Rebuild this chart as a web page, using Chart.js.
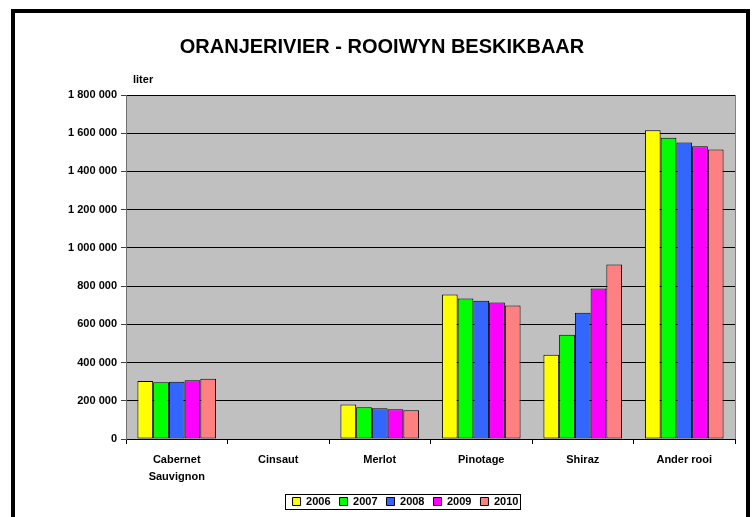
<!DOCTYPE html>
<html>
<head>
<meta charset="utf-8">
<script src="https://cdn.jsdelivr.net/npm/chart.js@4.4.0/dist/chart.umd.min.js"></script>
<style>
  html, body { margin: 0; padding: 0; background: #fff; overflow: hidden; }
  #wrap { position: relative; width: 755px; height: 517px; }
  #frame {
    position: absolute; left: 11px; top: 9px; width: 739px; height: 600px;
    border: 4px solid #000; box-sizing: border-box; pointer-events: none;
  }
  canvas { position: absolute; left: 0; top: 0; }
</style>
</head>
<body>
<div id="wrap">
  <canvas id="chart" width="755" height="517"></canvas>
  <div id="frame"></div>
</div>
<script>
// data
const categories = [['Cabernet', 'Sauvignon'], 'Cinsaut', 'Merlot', 'Pinotage', 'Shiraz', 'Ander rooi'];
const years = ['2006', '2007', '2008', '2009', '2010'];
const v2006 = [303000, 0, 180000, 756000, 441000, 1616000];
const v2007 = [297000, 0, 166000, 735000, 546000, 1576000];
const v2008 = [300000, 0, 161000, 724000, 661000, 1552000];
const v2009 = [308000, 0, 156000, 714000, 787000, 1532000];
const v2010 = [315000, 0, 151000, 698000, 913000, 1515000];
const yTicks = [0, 200000, 400000, 600000, 800000, 1000000, 1200000, 1400000, 1600000, 1800000];

const colours = ['#ffff00', '#00ff00', '#3366ff', '#ff00ff', '#ff8080'];
const series = [v2006, v2007, v2008, v2009, v2010];
const FONT = '"Liberation Sans", Arial, sans-serif';

function spaced(v) {
    return String(v).replace(/\B(?=(\d{3})+(?!\d))/g, ' ');
}

// gray plot background, title, "liter", legend box
const decor = {
    id: 'decor',
    afterLayout(chart) {
        // legend sits a bit right of the page centre
        chart.legend.left += 23;
        chart.legend.right += 23;
    },
    beforeDraw(chart) {
        const a = chart.chartArea, ctx = chart.ctx;
        ctx.save();
        ctx.fillStyle = '#c0c0c0';
        ctx.fillRect(a.left, a.top, a.right - a.left, a.bottom - a.top);
        ctx.restore();
    },
    afterDraw(chart) {
        const a = chart.chartArea, ctx = chart.ctx;
        ctx.save();
        // right edge of plot area
        ctx.strokeStyle = '#808080';
        ctx.lineWidth = 1;
        ctx.beginPath();
        ctx.moveTo(a.right + 0.5, a.top);
        ctx.lineTo(a.right + 0.5, a.bottom);
        ctx.stroke();

        ctx.fillStyle = '#000';
        ctx.font = 'bold 20px ' + FONT;
        ctx.textAlign = 'center';
        ctx.textBaseline = 'middle';
        ctx.fillText('ORANJERIVIER - ROOIWYN BESKIKBAAR', 382, 47);

        ctx.font = 'bold 11px ' + FONT;
        ctx.textAlign = 'left';
        ctx.fillText('liter', a.left + 7, a.top - 15);

        const hb = chart.legend.legendHitBoxes;
        if (hb && hb.length) {
            const first = hb[0], last = hb[hb.length - 1];
            const x0 = Math.round(first.left - 8) + 0.5;
            const x1 = Math.round(last.left + last.width + 2) + 0.5;
            const y0 = Math.round(first.top - 2) + 0.5;
            const y1 = Math.round(first.top + first.height + 2) + 0.5;
            ctx.strokeStyle = '#000';
            ctx.strokeRect(x0, y0, x1 - x0, y1 - y0);
        }
        ctx.restore();
    }
};

new Chart(document.getElementById('chart').getContext('2d'), {
    type: 'bar',
    data: {
        labels: categories,
        datasets: years.map((y, i) => ({
            label: y,
            data: series[i],
            backgroundColor: colours[i],
            borderColor: '#000',
            borderWidth: 1,
            borderSkipped: false,
            categoryPercentage: 0.775,
            barPercentage: 1.0
        }))
    },
    options: {
        responsive: false,
        devicePixelRatio: 1,
        animation: false,
        layout: {
            padding: { left: 30, right: 20, top: 95, bottom: 0 }
        },
        plugins: {
            title: { display: false },
            tooltip: { enabled: false },
            legend: {
                position: 'bottom',
                labels: {
                    color: '#000',
                    font: { family: FONT, size: 11, weight: 'bold' },
                    boxWidth: 8,
                    boxHeight: 8,
                    padding: 9
                }
            }
        },
        scales: {
            x: {
                afterFit(s) { s.height = 48; },
                grid: {
                    offset: true,
                    drawOnChartArea: false,
                    tickLength: 5,
                    color: '#000'
                },
                border: { color: '#000' },
                ticks: {
                    color: '#000',
                    padding: 8,
                    maxRotation: 0,
                    autoSkip: false,
                    font: { family: FONT, size: 11, weight: 'bold', lineHeight: 1.5 }
                }
            },
            y: {
                min: 0,
                max: 1800000,
                afterFit(s) { s.width = 96; },
                afterBuildTicks(s) { s.ticks = yTicks.map(v => ({ value: v })); },
                grid: {
                    color: '#000',
                    tickLength: 5,
                    tickColor: '#404040'
                },
                border: { color: '#707070' },
                ticks: {
                    color: '#000',
                    padding: 4,
                    font: { family: FONT, size: 11, weight: 'bold' },
                    callback: v => spaced(v)
                }
            }
        }
    },
    plugins: [decor]
});
</script>
</body>
</html>
